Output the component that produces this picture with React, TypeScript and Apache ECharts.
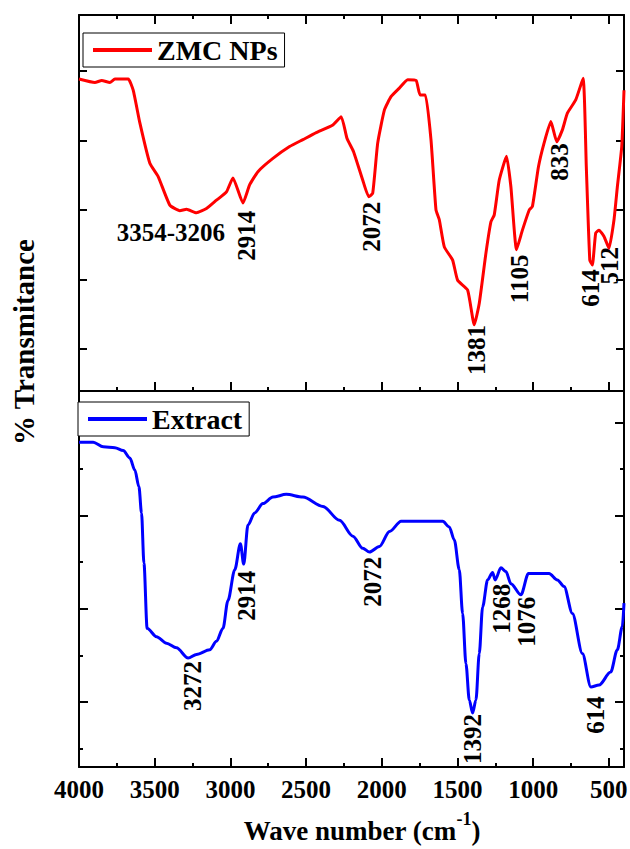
import React, { useEffect, useRef } from "react";
import * as echarts from "echarts";

const FONT = "'Times New Roman', 'Liberation Serif', serif";

// ZMC NPs spectrum (wavenumber, arbitrary % transmittance)
const zmcWave = [4000, 3895, 3850, 3796, 3763, 3675, 3642, 3598, 3532, 3477, 3400, 3334, 3290, 3224, 3158, 3092, 3026, 2983, 2917, 2873, 2818, 2719, 2609, 2521, 2433, 2323, 2268, 2230, 2187, 2126, 2086, 2060, 2027, 1982, 1938, 1884, 1829, 1773, 1747, 1712, 1675, 1642, 1620, 1587, 1532, 1499, 1433, 1389, 1356, 1312, 1279, 1257, 1224, 1176, 1147, 1110, 1071, 1026, 1005, 965, 928, 883, 844, 807, 774, 719, 670, 649, 626, 609, 587, 565, 532, 499, 466, 444, 415, 400];
const zmcT = [44.8, 44.3, 44.6, 44.3, 44.8, 44.8, 43.2, 38.5, 32.7, 30.8, 26.7, 25.9, 26.1, 25.6, 26.2, 27.4, 28.6, 30.6, 27.0, 29.6, 31.5, 33.4, 35.1, 36.1, 37.1, 38.2, 39.4, 36.3, 34.4, 30.3, 27.9, 28.4, 35.6, 40.4, 42.3, 43.5, 44.7, 44.6, 42.5, 42.5, 36.1, 26.0, 24.6, 20.7, 18.8, 15.9, 14.5, 9.5, 12.6, 19.8, 24.3, 25.3, 30.3, 33.7, 29.3, 20.3, 23.1, 26.0, 26.5, 32.2, 35.6, 38.7, 35.8, 37.5, 39.9, 41.8, 44.9, 32.2, 18.8, 18.1, 22.7, 23.1, 22.2, 20.5, 24.6, 29.3, 35.1, 43.2];

// Extract spectrum
const extractWave = [4000, 3906, 3840, 3763, 3708, 3664, 3631, 3604, 3587, 3571, 3550, 3488, 3422, 3356, 3279, 3224, 3136, 3092, 3049, 3016, 2971, 2934, 2912, 2884, 2840, 2785, 2719, 2631, 2521, 2389, 2279, 2191, 2126, 2081, 2015, 1949, 1872, 1598, 1554, 1521, 1488, 1466, 1444, 1422, 1400, 1378, 1356, 1334, 1301, 1268, 1251, 1213, 1180, 1147, 1081, 1031, 895, 840, 796, 741, 675, 619, 565, 488, 444, 411, 400];
const extractT = [34.9, 34.9, 34.4, 34.3, 34.0, 33.2, 31.9, 30.1, 27.3, 21.9, 14.9, 14.0, 13.3, 12.8, 11.7, 12.1, 12.6, 13.5, 14.9, 17.9, 21.2, 24.0, 21.8, 26.0, 27.3, 28.3, 29.0, 29.3, 29.0, 28.0, 26.5, 24.8, 23.5, 23.1, 23.7, 25.3, 26.4, 26.4, 25.8, 24.4, 21.2, 16.5, 11.1, 7.2, 5.8, 7.2, 12.2, 17.2, 20.1, 20.9, 20.1, 21.4, 21.0, 19.7, 18.5, 20.8, 20.8, 20.1, 19.4, 16.5, 12.2, 8.6, 8.8, 10.2, 12.6, 15.1, 17.6];

// Axis ticks
const xMajorTicks = [4000, 3500, 3000, 2500, 2000, 1500, 1000, 500];
const xMinorTicks = [3750, 3250, 2750, 2250, 1750, 1250, 750];
const topYTicks = [6, 16, 26, 36, 46];
const bottomYMajorTicks = [7, 17, 27, 37];
const bottomYMinorTicks = [2, 12, 22, 32];

// Peak annotations (text, anchor wavenumber, anchor value)
const zmcPeakText = ["3354-3206", "2914", "2072", "1381", "1105", "833", "614", "512"];
const zmcPeakWave = [3393, 2895, 2068, 1376, 1092, 829, 618, 499];
const zmcPeakT = [22.8, 22.3, 23.6, 5.9, 16.1, 32.9, 14.8, 18.0];
const extractPeakText = ["3272", "2914", "2072", "1392", "1268", "1076", "614"];
const extractPeakWave = [3248, 2892, 2062, 1402, 1211, 1046, 585];
const extractPeakT = [8.7, 18.4, 19.9, 3.0, 17.0, 15.6, 5.6];

const TOP_MAX = 54;
const BOTTOM_MAX = 40.4;

function xAxis(gridIndex: number, position: string, values: number[], length: number, showLine: boolean, showLabel: boolean) {
  return {
    type: "value",
    gridIndex,
    position,
    min: 400,
    max: 4000,
    inverse: true,
    axisLine: { show: showLine, onZero: false, lineStyle: { color: "#000", width: 2 } },
    axisTick: { show: true, inside: true, length, customValues: values, lineStyle: { color: "#000", width: 2 } },
    axisLabel: {
      show: showLabel,
      customValues: values,
      formatter: (v: number) => String(v),
      margin: 10,
      color: "#000",
      fontFamily: FONT,
      fontWeight: "bold",
      fontSize: 25,
    },
    splitLine: { show: false },
    minorTick: { show: false },
  };
}

function yAxis(gridIndex: number, position: string, max: number, values: number[], length: number, showLine: boolean) {
  return {
    type: "value",
    gridIndex,
    position,
    min: 0,
    max,
    axisLine: { show: showLine, onZero: false, lineStyle: { color: "#000", width: 2 } },
    axisTick: { show: true, inside: true, length, customValues: values, lineStyle: { color: "#000", width: 2 } },
    axisLabel: { show: false },
    splitLine: { show: false },
  };
}

export default function App() {
  const ref = useRef<HTMLDivElement>(null);
  useEffect(() => {
    const chart = echarts.init(ref.current!, null, { renderer: "svg" });
    const legendCommon = {
      orient: "horizontal",
      icon: "rect",
      itemWidth: 59,
      itemHeight: 4,
      borderColor: "#000",
      borderWidth: 1,
      borderRadius: 0,
      backgroundColor: "#fff",
      textStyle: { color: "#000", fontFamily: FONT, fontWeight: "bold", fontSize: 28 },
    };
    const option: any = {
      animation: false,
      backgroundColor: "#fff",
      grid: [
        { left: 79, top: 15, width: 545, height: 376, outerBoundsMode: "none", containLabel: false },
        { left: 79, top: 391, width: 545, height: 376, outerBoundsMode: "none", containLabel: false },
      ],
      xAxis: [
        xAxis(0, "bottom", xMajorTicks, 9, true, false),
        xAxis(0, "bottom", xMinorTicks, 4, false, false),
        xAxis(0, "top", xMajorTicks, 9, true, false),
        xAxis(0, "top", xMinorTicks, 4, false, false),
        xAxis(1, "bottom", xMajorTicks, 9, true, true),
        xAxis(1, "bottom", xMinorTicks, 4, false, false),
      ],
      yAxis: [
        yAxis(0, "left", TOP_MAX, topYTicks, 8, true),
        yAxis(0, "right", TOP_MAX, topYTicks, 8, true),
        yAxis(1, "left", BOTTOM_MAX, bottomYMajorTicks, 9, true),
        yAxis(1, "left", BOTTOM_MAX, bottomYMinorTicks, 4, false),
        yAxis(1, "right", BOTTOM_MAX, bottomYMajorTicks, 9, true),
        yAxis(1, "right", BOTTOM_MAX, bottomYMinorTicks, 4, false),
      ],
      legend: [
        { ...legendCommon, data: ["ZMC NPs"], left: 83, top: 33, padding: [3, 7, 3, 10] },
        { ...legendCommon, data: ["Extract"], left: 78, top: 402, padding: [3, 7, 3, 10] },
      ],
      series: [
        {
          name: "ZMC NPs",
          type: "line",
          xAxisIndex: 0,
          yAxisIndex: 0,
          symbol: "none",
          showSymbol: false,
          smooth: 0.15,
          lineStyle: { color: "#ff0000", width: 3 },
          itemStyle: { color: "#ff0000" },
          data: zmcWave.map((w, i) => [w, zmcT[i]]),
        },
        {
          name: "Extract",
          type: "line",
          xAxisIndex: 4,
          yAxisIndex: 2,
          symbol: "none",
          showSymbol: false,
          smooth: 0.3,
          smoothMonotone: "x",
          lineStyle: { color: "#0000ff", width: 3 },
          itemStyle: { color: "#0000ff" },
          data: extractWave.map((w, i) => [w, extractT[i]]),
        },
      ],
    };
    chart.setOption(option);

    const peakText = (texts: string[], waves: number[], vals: number[], xi: number, yi: number) =>
      texts.map((t, i) => {
        const p = chart.convertToPixel({ xAxisIndex: xi, yAxisIndex: yi }, [waves[i], vals[i]]) as number[];
        return {
          type: "text",
          x: p[0],
          y: p[1],
          rotation: t.indexOf("-") >= 0 ? 0 : Math.PI / 2,
          silent: true,
          style: {
            text: t,
            fill: "#000",
            fontFamily: FONT,
            fontWeight: "bold",
            fontSize: 25,
            align: "center",
            verticalAlign: "middle",
          },
        };
      });

    chart.setOption({
      graphic: [
        {
          type: "text",
          x: 24,
          y: 342,
          rotation: Math.PI / 2,
          style: {
            text: "% Transmitance",
            fill: "#000",
            fontFamily: FONT,
            fontWeight: "bold",
            fontSize: 29,
            align: "center",
            verticalAlign: "middle",
          },
        },
        {
          type: "text",
          x: 362,
          y: 827,
          style: {
            text: "{a|Wave number (cm}{b|-1}{a|)}",
            fill: "#000",
            align: "center",
            verticalAlign: "middle",
            rich: {
              a: { fontFamily: FONT, fontWeight: "bold", fontSize: 27, lineHeight: 34, verticalAlign: "bottom", fill: "#000" },
              b: { fontFamily: FONT, fontWeight: "bold", fontSize: 18, lineHeight: 18, verticalAlign: "top", fill: "#000" },
            },
          },
        },
        ...peakText(zmcPeakText, zmcPeakWave, zmcPeakT, 0, 0),
        ...peakText(extractPeakText, extractPeakWave, extractPeakT, 4, 2),
      ],
    });
    return () => chart.dispose();
  }, []);
  return <div ref={ref} style={{ position: "absolute", left: 0, top: 0, width: 630, height: 849 }} />;
}
